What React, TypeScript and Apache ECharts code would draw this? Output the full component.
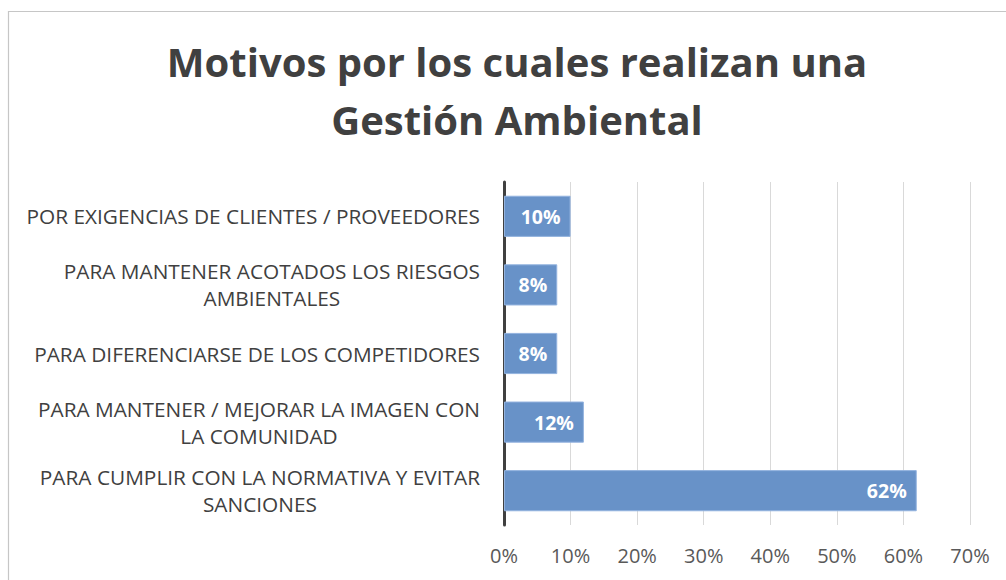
import React, { useEffect, useRef } from "react";
import * as echarts from "echarts";

const titleLines = ["Motivos por los cuales realizan una", "Gestión Ambiental"];
const categories = [
  "POR EXIGENCIAS DE CLIENTES / PROVEEDORES",
  "PARA MANTENER ACOTADOS LOS RIESGOS\nAMBIENTALES",
  "PARA DIFERENCIARSE DE LOS COMPETIDORES",
  "PARA MANTENER / MEJORAR LA IMAGEN CON\nLA COMUNIDAD",
  "PARA CUMPLIR CON LA NORMATIVA Y EVITAR\nSANCIONES",
];
const values = [10, 8, 8, 12, 62];
const xTicks = [0, 10, 20, 30, 40, 50, 60, 70];

export default function App() {
  const ref = useRef<HTMLDivElement>(null);
  useEffect(() => {
    if (!ref.current) return;
    const chart = echarts.init(ref.current, null, { renderer: "svg" });
    chart.setOption({
      animation: false,
      backgroundColor: "#ffffff",
      graphic: [
        {
          type: "rect",
          silent: true,
          shape: { x: 8.5, y: 11.5, width: 1200, height: 800 },
          style: { fill: "none", stroke: "#c6c6c6", lineWidth: 1.2 },
        },
      ],
      title: {
        text: titleLines.join("\n"),
        left: 512,
        top: 27,
        textAlign: "center",
        textStyle: {
          fontFamily: "Open Sans",
          fontWeight: "bold",
          fontSize: 40,
          lineHeight: 58,
          color: "#404040",
        },
      },
      grid: { left: 504, right: 36, top: 182, bottom: 55, containLabel: false },
      xAxis: {
        type: "value",
        min: xTicks[0],
        max: xTicks[xTicks.length - 1],
        interval: 10,
        axisLine: { show: false },
        axisTick: { show: false },
        splitLine: { show: true, lineStyle: { color: "#d9d9d9", width: 1 } },
        axisLabel: {
          formatter: "{value}%",
          color: "#595959",
          fontFamily: "Open Sans",
          fontSize: 20,
          margin: 20,
        },
      },
      yAxis: {
        type: "category",
        inverse: true,
        data: categories,
        axisLine: { show: true, lineStyle: { color: "#404040", width: 3 } },
        axisTick: { show: false },
        axisLabel: {
          margin: 24,
          formatter: (v: string) =>
            v
              .split("\n")
              .map((l) => `{c|${l}}`)
              .join("\n"),
          rich: {
            c: {
              align: "center",
              fontFamily: "Open Sans",
              fontSize: 20.8,
              lineHeight: 27,
              color: "#404040",
            },
          },
        },
      },
      series: [
        {
          type: "bar",
          data: values,
          barCategoryGap: "40%",
          itemStyle: { color: "#6892c8", borderColor: "#93b3df", borderWidth: 1 },
          label: {
            show: true,
            position: "insideRight",
            distance: 10,
            formatter: "{c}%",
            color: "#ffffff",
            fontFamily: "Open Sans",
            fontWeight: "bold",
            fontSize: 19.5,
          },
        },
      ],
    });
    return () => chart.dispose();
  }, []);
  return (
    <div
      ref={ref}
      style={{ position: "fixed", left: 0, top: 0, width: 1006, height: 580 }}
    />
  );
}
